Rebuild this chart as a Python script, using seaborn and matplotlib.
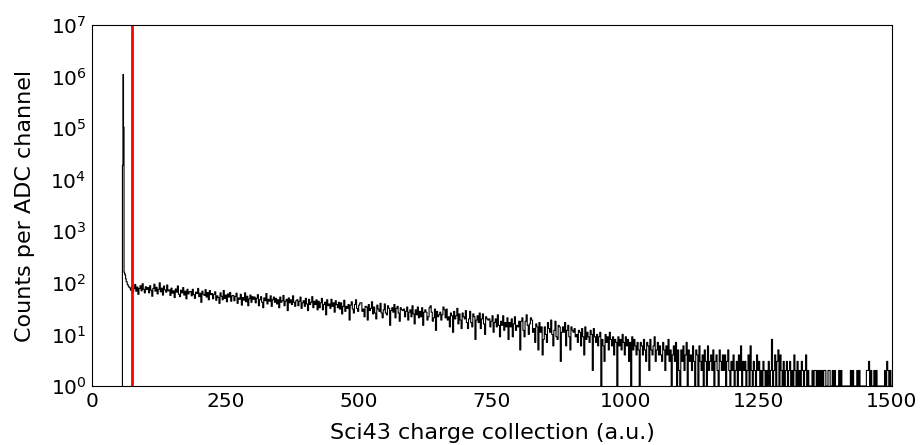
import numpy as np
import pandas as pd
import matplotlib
matplotlib.use('Agg')
import matplotlib.pyplot as plt
import seaborn as sns
from matplotlib.ticker import NullLocator

# pedestal peak, one ADC channel per entry
peak_channels = [54, 55, 56, 57, 58, 59, 60, 61, 62, 63]
peak_counts = [0, 0, 0, 19000, 1100000, 105000, 160, 150, 140, 120]

# spectrum above the pedestal, one value per 2 channels starting at channel 64
tail_start = 64
tail_width = 2
tail_counts = [
    105, 92, 84, 80, 72, 86, 66, 77, 93, 69, 83, 60, 78, 88, 70, 96, 75, 64, 84, 74,
    81, 64, 88, 72, 55, 78, 94, 69, 82, 61, 75, 100, 67, 79, 58, 87, 73, 66, 91, 70,
    73, 57, 79, 63, 70, 52, 76, 66, 87, 60, 54, 72, 64, 81, 58, 69, 49, 75, 61, 67,
    68, 56, 75, 59, 50, 66, 62, 78, 54, 63, 42, 69, 60, 57, 74, 53, 65, 47, 71, 59,
    62, 49, 60, 67, 46, 56, 52, 40, 64, 55, 47, 71, 50, 58, 43, 61, 53, 65, 44, 56,
    57, 45, 54, 63, 40, 51, 48, 60, 37, 52, 46, 64, 43, 55, 36, 49, 58, 42, 54, 48,
    53, 41, 50, 59, 36, 47, 54, 42, 33, 51, 45, 62, 39, 48, 44, 56, 35, 47, 53, 42,
    50, 39, 47, 33, 53, 42, 45, 57, 36, 44, 48, 29, 51, 41, 47, 38, 56, 42, 35, 45,
    47, 36, 44, 53, 32, 41, 45, 35, 50, 39, 29, 48, 38, 42, 54, 33, 44, 38, 47, 30,
    44, 33, 41, 50, 30, 38, 42, 24, 47, 36, 39, 32, 48, 35, 41, 27, 45, 38, 33, 42,
    31, 41, 25, 35, 46, 28, 35, 32, 38, 19, 37, 43, 31, 26, 38, 47, 32, 28, 37, 41,
    41, 28, 31, 22, 35, 34, 19, 38, 29, 32, 43, 25, 34, 26, 20, 37, 31, 28, 40, 26,
    21, 30, 39, 26, 24, 36, 32, 15, 29, 33, 27, 38, 21, 32, 35, 26, 18, 33, 30, 29,
    31, 22, 28, 34, 19, 27, 30, 22, 36, 25, 16, 30, 24, 34, 21, 28, 22, 33, 15, 27,
    30, 27, 19, 22, 33, 36, 27, 18, 21, 31, 12, 28, 22, 24, 27, 19, 24, 34, 30, 21,
    31, 19, 22, 14, 26, 23, 11, 28, 20, 23, 32, 16, 25, 19, 13, 26, 22, 20, 29, 17,
    13, 20, 28, 17, 14, 25, 22, 8, 19, 23, 17, 26, 13, 20, 25, 16, 10, 22, 20, 19,
    20, 14, 18, 23, 11, 17, 20, 14, 24, 15, 9, 18, 15, 23, 12, 17, 14, 21, 8, 17,
    14, 20, 9, 16, 22, 12, 15, 14, 18, 5, 18, 21, 12, 9, 18, 24, 15, 10, 16, 21,
    19, 11, 13, 7, 16, 14, 5, 17, 11, 14, 4, 8, 14, 10, 7, 17, 13, 11, 19, 10,
    6, 12, 18, 9, 8, 15, 14, 3, 11, 14, 11, 17, 6, 12, 15, 9, 5, 14, 12, 11,
    13, 9, 10, 7, 12, 11, 6, 13, 9, 4, 14, 8, 11, 9, 7, 12, 10, 2, 13, 9,
    7, 10, 6, 9, 11, 0, 8, 6, 3, 10, 7, 9, 5, 11, 8, 6, 9, 4, 8, 7,
    0, 9, 6, 8, 5, 10, 7, 4, 9, 6, 8, 3, 7, 0, 9, 5, 8, 6, 4, 7,
    5, 0, 7, 6, 4, 8, 5, 3, 7, 6, 2, 8, 5, 4, 6, 9, 3, 5, 7, 4,
    6, 4, 3, 7, 5, 2, 6, 4, 8, 3, 5, 0, 4, 6, 3, 7, 0, 5, 2, 0,
    5, 3, 6, 2, 4, 7, 1, 5, 3, 4, 2, 6, 3, 1, 5, 4, 1, 6, 3, 2,
    4, 1, 5, 3, 1, 6, 2, 3, 4, 2, 5, 1, 3, 4, 2, 1, 5, 3, 2, 4,
    2, 4, 1, 3, 5, 2, 1, 3, 2, 4, 1, 2, 3, 1, 4, 2, 6, 1, 3, 2,
    3, 1, 2, 4, 1, 6, 2, 1, 3, 2, 1, 4, 2, 3, 1, 2, 1, 3, 2, 1,
    2, 1, 3, 1, 2, 8, 1, 2, 4, 1, 3, 5, 1, 4, 2, 1, 3, 1, 2, 3,
    1, 2, 3, 1, 2, 1, 4, 2, 1, 3, 1, 2, 1, 3, 2, 1, 2, 4, 1, 2,
    1, 1, 1, 2, 1, 2, 2, 1, 2, 1, 2, 1, 2, 1, 2, 2, 1, 1, 2, 2,
    1, 1, 2, 1, 2, 1, 1, 1, 2, 1, 2, 1, 1, 1, 1, 1, 1, 1, 1, 2,
    1, 2, 1, 1, 1, 2, 1, 2, 1, 1, 1, 1, 1, 1, 2, 2, 3, 1, 2, 1,
    1, 2, 1, 2, 1, 1, 1, 1, 1, 1, 1, 2, 1, 3, 2, 1, 2, 1,
]

threshold = 75
x_end = 1500

tail_channels = list(tail_start + tail_width * np.arange(len(tail_counts)))
channels = peak_channels + tail_channels + [x_end]
counts = peak_counts + tail_counts + [tail_counts[-1]]
df = pd.DataFrame({'channel': channels, 'counts': counts})

sns.set_style('white')
plt.rcParams['font.family'] = ['DejaVu Sans']
plt.rcParams['text.color'] = 'black'
plt.rcParams['axes.labelcolor'] = 'black'

fig = plt.figure(figsize=(9.23, 4.45), dpi=100)
ax = fig.add_axes([0.0997, 0.1326, 0.8667, 0.8112])

sns.lineplot(data=df, x='channel', y='counts', estimator=None, drawstyle='steps-post',
             color='black', lw=0.8, ax=ax)
ax.axvline(threshold, color='red', lw=2)

ax.set_yscale('log')
ax.set_xlim(0, 1500)
ax.set_ylim(1, 1e7)
ax.set_xticks([0, 250, 500, 750, 1000, 1250, 1500])
ax.set_yticks([10.0 ** k for k in range(8)])
ax.yaxis.set_minor_locator(NullLocator())

ax.tick_params(direction='in', length=5, width=0.8, labelsize=14.5, pad=4,
               top=False, right=False, colors='black')
for s in ax.spines.values():
    s.set_color('black')
    s.set_linewidth(0.8)

ax.set_xlabel('Sci43 charge collection (a.u.)', fontsize=16, labelpad=9, color='black')
ax.set_ylabel('Counts per ADC channel', fontsize=16, labelpad=11, color='black')

fig.savefig('out.png', dpi=100)
